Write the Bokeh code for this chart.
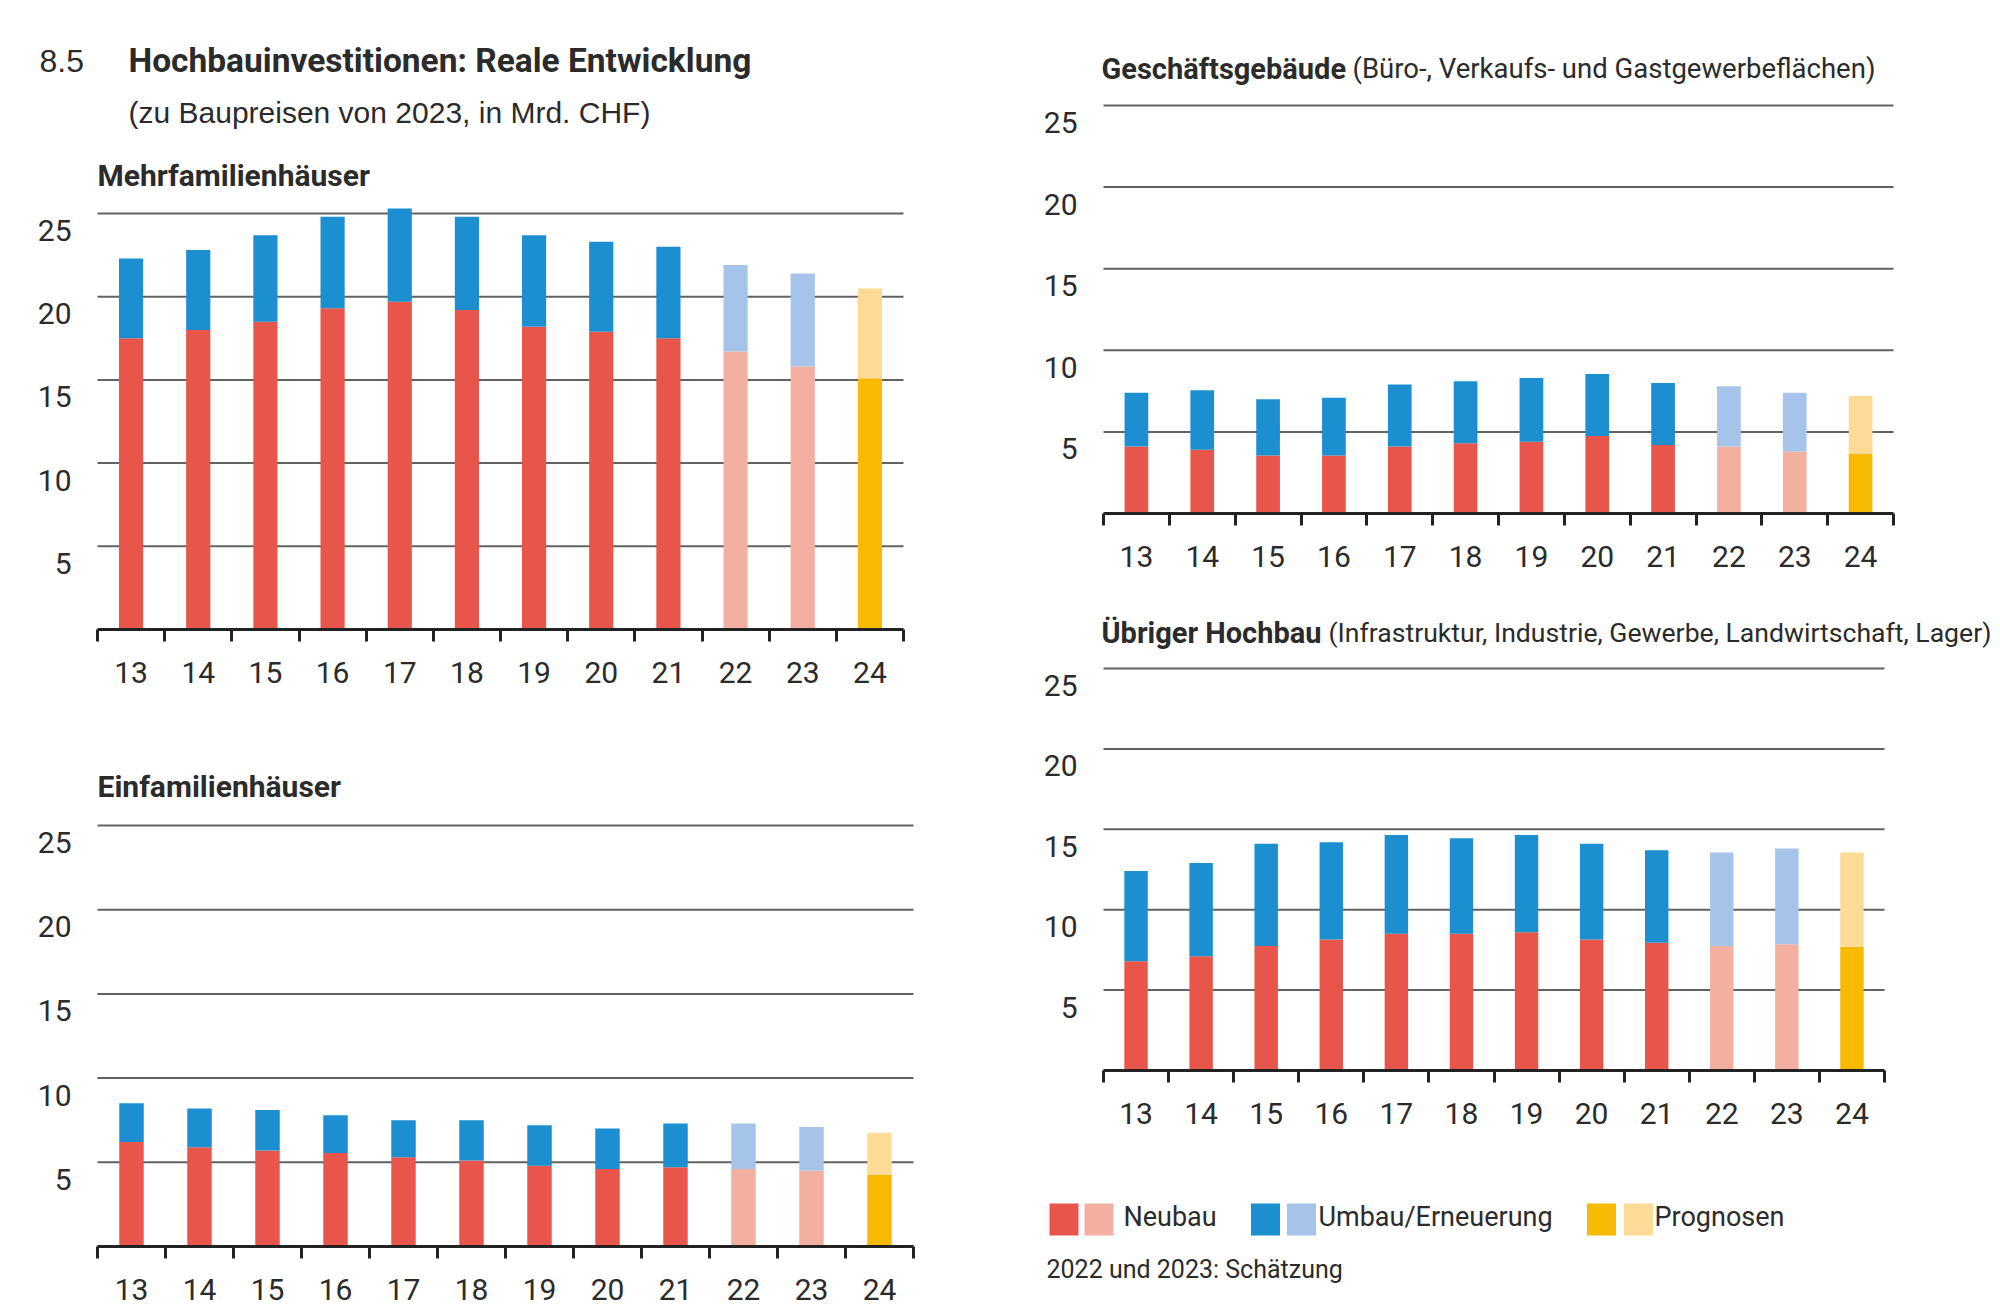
from bokeh.plotting import figure
from bokeh.models import Range1d, FixedTicker, ColumnDataSource
from bokeh.layouts import row, column
from bokeh.embed import file_html
from bokeh.resources import INLINE
from bokeh.core.properties import value

# ---------------- data (Mrd. CHF, zu Baupreisen von 2023) ----------------
years = ["13", "14", "15", "16", "17", "18", "19", "20", "21", "22", "23", "24"]
status = ["ist"] * 9 + ["schaetzung"] * 2 + ["prognose"]

mfh_neubau = [17.5, 18.0, 18.5, 19.3, 19.7, 19.2, 18.2, 17.9, 17.5, 16.7, 15.8, 15.1]
mfh_umbau = [4.8, 4.8, 5.2, 5.5, 5.6, 5.6, 5.5, 5.4, 5.5, 5.2, 5.6, 5.4]

efh_neubau = [6.2, 5.9, 5.7, 5.55, 5.3, 5.1, 4.8, 4.6, 4.7, 4.6, 4.5, 4.25]
efh_umbau = [2.3, 2.3, 2.4, 2.25, 2.2, 2.4, 2.4, 2.4, 2.6, 2.7, 2.6, 2.5]

ges_neubau = [4.1, 3.9, 3.55, 3.55, 4.1, 4.3, 4.4, 4.75, 4.2, 4.1, 3.8, 3.65]
ges_umbau = [3.3, 3.65, 3.45, 3.55, 3.8, 3.8, 3.9, 3.8, 3.8, 3.7, 3.6, 3.55]

ueb_neubau = [6.8, 7.1, 7.75, 8.15, 8.5, 8.5, 8.6, 8.15, 7.95, 7.75, 7.85, 7.7]
ueb_umbau = [5.6, 5.8, 6.35, 6.05, 6.15, 5.95, 6.05, 5.95, 5.75, 5.8, 5.95, 5.85]

y_ticks = [5, 10, 15, 20, 25]

neubau_colors = {"ist": "#E8554A", "schaetzung": "#F3AFA0", "prognose": "#F8BA00"}
umbau_colors = {"ist": "#1B8FCF", "schaetzung": "#A6C4EA", "prognose": "#FDDB96"}

legend_labels = ["Neubau", "Umbau/Erneuerung", "Prognosen"]
footnote = "2022 und 2023: Schätzung"

# ---------------- style ----------------
TEXT = "#2b2b2b"
FONT = "Roboto"
SANS = "Liberation Sans"
GRID = "#626262"
AXIS = "#222222"
W = 1000
SHIFT = 12  # baseline correction (px)


def make_panel(neubau, umbau, fig_h, frame_h, ax0, ax1, y25_local, border_bottom):
    n = len(years)
    u = (ax1 - ax0) / n
    xs = -0.5 - ax0 / u
    xe = xs + W / u
    ppu = (frame_h - y25_local) / 25.0
    ye = frame_h / ppu

    p = figure(width=W, height=fig_h, x_range=Range1d(xs, xe), y_range=Range1d(0, ye),
               output_backend="svg", toolbar_location=None, y_axis_location=None,
               min_border_left=0, min_border_right=0, min_border_top=0,
               min_border_bottom=border_bottom)
    p.outline_line_color = None
    p.background_fill_color = "white"
    p.border_fill_color = "white"
    p.xgrid.visible = False
    p.ygrid.visible = False

    # horizontal grid lines spanning the category axis only
    p.segment(x0=[-0.5] * len(y_ticks), x1=[n - 0.5] * len(y_ticks), y0=y_ticks, y1=y_ticks,
              line_color=GRID, line_width=2)

    src = ColumnDataSource(dict(
        x=list(range(n)),
        neubau=neubau,
        umbau=umbau,
        c_neu=[neubau_colors[s] for s in status],
        c_umb=[umbau_colors[s] for s in status],
    ))
    p.vbar_stack(["neubau", "umbau"], x="x", width=0.36, source=src,
                 fill_color=["c_neu", "c_umb"], line_color=None)

    ax = p.xaxis[0]
    ax.ticker = FixedTicker(ticks=list(range(n)), minor_ticks=[i - 0.5 for i in range(n + 1)])
    ax.major_label_overrides = {i: y for i, y in enumerate(years)}
    ax.bounds = (-0.5, n - 0.5)
    ax.axis_line_color = AXIS
    ax.axis_line_width = 3
    ax.major_tick_line_color = None
    ax.major_tick_out = 0
    ax.major_tick_in = 0
    ax.minor_tick_line_color = AXIS
    ax.minor_tick_line_width = 3
    ax.minor_tick_out = 12
    ax.minor_tick_in = 0
    ax.major_label_text_font = FONT
    ax.major_label_text_font_size = "30px"
    ax.major_label_text_color = TEXT
    ax.major_label_standoff = 20

    # y tick labels, set just below each grid line
    p.text(x=[xs + (ax0 - 26) / u] * len(y_ticks), y=y_ticks, text=[str(v) for v in y_ticks],
           text_align="right", text_baseline="alphabetic", y_offset=29 - SHIFT,
           text_font=value(FONT), text_font_size="30px", text_color=TEXT)

    def put(px, py, txt, size, font=FONT, bold=False):
        p.text(x=[xs + px / u], y=[(frame_h - py) / ppu], text=[txt],
               text_align="left", text_baseline="alphabetic", y_offset=-SHIFT,
               text_font=value(font), text_font_size=size,
               text_font_style="bold" if bold else "normal", text_color=TEXT)

    return p, put


# Mehrfamilienhäuser (top left, with chart title)
p1, put1 = make_panel(mfh_neubau, mfh_umbau, fig_h=690, frame_h=629, ax0=97, ax1=903,
                      y25_local=213, border_bottom=61)
put1(39, 72, "8.5", "32px", font=SANS)
put1(128, 72, "Hochbauinvestitionen: Reale Entwicklung", "33.5px", bold=True)
put1(128, 124, "(zu Baupreisen von 2023, in Mrd. CHF)", "30px", font=SANS)
put1(97, 187, "Mehrfamilienhäuser", "30px", bold=True)

# Einfamilienhäuser (bottom left), top at 690
p3, put3 = make_panel(efh_neubau, efh_umbau, fig_h=616, frame_h=556, ax0=97, ax1=913,
                      y25_local=135, border_bottom=60)
put3(97, 108, "Einfamilienhäuser", "30px", bold=True)

# Geschäftsgebäude (top right)
p2, put2 = make_panel(ges_neubau, ges_umbau, fig_h=575, frame_h=513, ax0=103, ax1=893,
                      y25_local=105, border_bottom=62)
put2(101, 80, "Geschäftsgebäude", "29px", bold=True)
put2(352, 80, "(Büro-, Verkaufs- und Gastgewerbeflächen)", "27.5px")

# Übriger Hochbau (middle right), top at 575
p4, put4 = make_panel(ueb_neubau, ueb_umbau, fig_h=557, frame_h=495, ax0=103, ax1=884,
                      y25_local=93, border_bottom=62)
put4(101, 69, "Übriger Hochbau", "29px", bold=True)
put4(328, 69, "(Infrastruktur, Industrie, Gewerbe, Landwirtschaft, Lager)", "26.6px")

# Legend + footnote (bottom right), top at 1132
LH = 174
pl = figure(width=W, height=LH, x_range=Range1d(0, W), y_range=Range1d(LH, 0),
            output_backend="svg", toolbar_location=None,
            x_axis_location=None, y_axis_location=None,
            min_border_left=0, min_border_right=0, min_border_top=0, min_border_bottom=0)
pl.outline_line_color = None
pl.xgrid.visible = False
pl.ygrid.visible = False
swatch_x = [63.5, 98.5, 265, 301, 601, 638]
swatch_c = [neubau_colors["ist"], neubau_colors["schaetzung"],
            umbau_colors["ist"], umbau_colors["schaetzung"],
            neubau_colors["prognose"], umbau_colors["prognose"]]
pl.rect(x=swatch_x, y=[87] * 6, width=29, height=32, fill_color=swatch_c, line_color=None)
pl.text(x=[123, 318, 654], y=[96] * 3, text=legend_labels, text_align="left",
        text_baseline="alphabetic", y_offset=-SHIFT, text_font=value(FONT),
        text_font_size="27px", text_color=TEXT)
pl.text(x=[46], y=[149], text=[footnote], text_align="left", text_baseline="alphabetic",
        y_offset=-SHIFT, text_font=value(FONT), text_font_size="25px", text_color=TEXT)

layout = row(column(p1, p3), column(p2, p4, pl))
open("out.html", "w").write(file_html(layout, INLINE))
